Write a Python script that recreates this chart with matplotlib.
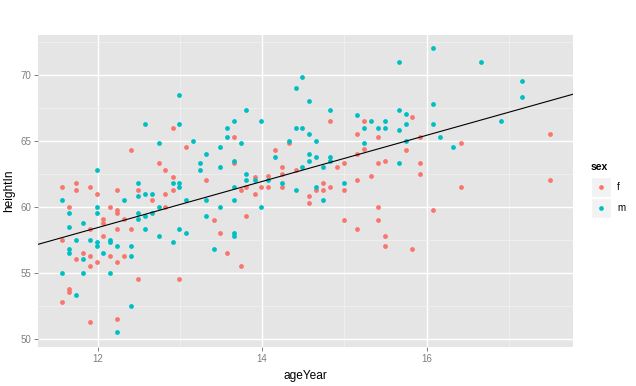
import matplotlib
matplotlib.use("Agg")
import matplotlib.pyplot as plt
from matplotlib.patches import Rectangle
from matplotlib.lines import Line2D
import numpy as np

plt.rcParams['font.family'] = ['Liberation Sans', 'DejaVu Sans']

# female points (ageYear, heightIn)
f_age = [12.40, 12.74, 11.74, 11.57, 11.74, 11.91, 12.23, 12.49, 11.99,
         12.66, 11.65, 12.15, 12.23, 12.23, 12.07, 12.07, 12.32, 11.91, 12.23,
         12.40, 12.07, 11.57, 11.82, 11.91, 12.15, 12.32, 11.74, 11.99, 12.23,
         11.91, 12.49, 11.65, 11.65, 11.57, 12.23, 11.91,
         12.92, 13.66, 13.07, 13.66, 12.82, 12.92, 13.32, 13.91, 12.92, 13.99,
         13.74, 13.81, 12.82, 13.91,
         12.82, 13.81, 13.41, 13.49, 13.57, 13.74, 12.99,
         14.82, 15.24, 15.16, 14.33, 15.24, 14.16, 15.16, 15.00, 14.24, 14.91,
         14.41, 14.24, 15.32, 14.07, 14.74, 15.16, 14.07, 14.24, 14.82, 14.66,
         14.74, 15.00,
         14.57, 14.57, 15.00, 15.16,
         15.82, 15.41, 15.92, 16.42, 15.75, 15.41, 15.50, 15.92, 15.92, 16.42,
         15.41, 16.08, 15.41, 15.50, 15.50, 15.82,
         17.50, 17.50]
f_height = [64.3, 63.3, 61.8, 61.5, 61.3, 61.5, 61.3, 61.3, 61.0,
            60.5, 60.0, 60.0, 59.75, 59.5, 59.05, 58.8, 59.05, 58.3, 58.3,
            58.3, 57.8, 57.5, 56.5, 56.3, 56.3, 56.3, 56.0, 55.8, 55.8,
            55.5, 54.5, 53.8, 53.5, 52.8, 51.5, 51.3,
            66.0, 65.3, 64.5, 63.3, 62.8, 62.25, 62.0, 62.25, 61.3, 61.5,
            61.3, 61.5, 61.0, 61.0,
            60.0, 59.3, 59.0, 58.0, 56.5, 55.5, 54.5,
            66.5, 66.5, 65.5, 64.8, 64.4, 64.3, 64.0, 63.3, 63.0, 63.0,
            62.8, 62.5, 62.3, 62.3, 61.8, 62.0, 61.5, 61.5, 61.5, 61.3,
            61.3, 61.3,
            60.8, 60.3, 59.0, 58.3,
            66.8, 65.3, 65.3, 64.8, 64.3, 63.3, 63.5, 63.3, 62.5, 61.5,
            60.0, 59.75, 59.0, 57.8, 57.0, 56.8,
            65.5, 62.0]

# male points (ageYear, heightIn)
m_age = [12.58, 12.74, 11.99, 12.49, 12.58, 12.66,
         12.49, 11.57, 11.99, 12.32, 12.74, 11.65, 11.99, 12.49, 12.66, 12.49,
         12.58, 11.82, 11.65, 12.58, 12.74, 11.74, 11.91, 11.99, 11.99, 12.15,
         12.15, 12.23, 12.40, 11.65, 11.65, 12.07, 12.40, 11.82, 11.57, 11.82,
         12.15, 11.74, 12.40, 12.23,
         12.99, 13.81, 13.66, 13.99, 12.99, 13.57, 13.57, 13.16, 13.74, 13.49,
         13.32, 13.24, 13.66, 13.24, 13.49, 13.81, 13.81, 13.91, 12.92, 12.99,
         12.99, 13.66,
         13.07, 13.32, 13.66, 13.49, 13.99, 13.32, 12.99, 13.07, 13.66, 13.66,
         12.92, 13.41,
         14.49, 14.41, 14.57, 14.82, 15.16, 15.32, 14.41, 14.49, 15.24, 14.57,
         14.33, 14.66, 15.24, 14.57, 14.16, 14.66, 14.82, 14.57, 14.82, 14.49,
         14.74, 14.07, 14.24, 15.00, 14.66, 14.41,
         14.74,
         16.08, 15.66, 16.08, 15.66, 15.75, 15.50, 15.41, 15.50, 15.75, 16.08,
         15.66, 16.16, 15.75, 16.32, 15.66,
         16.66, 17.16, 17.16, 16.91]
m_height = [66.3, 64.8, 62.8, 61.8, 61.0, 61.0,
            60.8, 60.5, 60.0, 60.5, 60.0, 59.5, 59.5, 59.5, 59.5, 59.05,
            59.3, 58.8, 58.5, 58.3, 57.8, 57.5, 57.5, 57.35, 57.0, 57.5,
            57.35, 57.0, 57.0, 56.8, 56.5, 56.5, 56.3, 56.0, 55.0, 55.0,
            55.0, 53.3, 52.5, 50.5,
            68.5, 67.3, 66.5, 66.5, 66.3, 66.0, 65.3, 65.0, 64.8, 64.5,
            64.0, 63.3, 63.5, 62.8, 63.0, 62.5, 62.0, 62.0, 61.8, 61.8,
            61.5, 61.5,
            60.5, 60.5, 60.5, 60.0, 60.0, 59.3, 58.3, 58.0, 58.0, 57.8,
            57.35, 56.8,
            69.8, 69.0, 68.0, 67.3, 66.95, 66.5, 66.0, 66.0, 66.0, 65.5,
            65.0, 65.0, 64.8, 64.0, 63.8, 63.8, 63.8, 63.5, 63.5, 63.0,
            63.0, 62.0, 61.8, 61.8, 61.5, 61.3,
            60.5,
            72.0, 71.0, 67.8, 67.3, 67.0, 66.5, 66.0, 66.0, 66.3, 66.3,
            65.8, 65.3, 65.0, 64.5, 63.3,
            71.0, 69.5, 68.3, 66.5]

# fitted line heightIn ~ ageYear
intercept = 37.44
slope = 1.748

sexes = ['f', 'm']
colors = ['#F8766D', '#00BFC4']

fig = plt.figure(figsize=(6.36, 3.86), dpi=100)
ax = fig.add_axes([38/636, 1-347/386, (573-38)/636, (347-35)/386])
ax.set_facecolor('#E5E5E5')
for s in ax.spines.values():
    s.set_visible(False)

ax.set_xlim(11.274, 17.782)
ax.set_ylim(49.37, 73.01)
ax.set_xticks([12, 14, 16])
ax.set_yticks([50, 55, 60, 65, 70])
ax.set_xticks([13, 15, 17], minor=True)
ax.set_yticks([52.5, 57.5, 62.5, 67.5, 72.5], minor=True)
ax.grid(which='major', color='white', linewidth=1.0)
ax.grid(which='minor', color='#F2F2F2', linewidth=0.5)
ax.set_axisbelow(True)
ax.tick_params(which='major', length=3, width=0.7, color='#7F7F7F',
               labelcolor='#7F7F7F', labelsize=7, pad=2)
ax.tick_params(which='minor', length=0)

ax.scatter(f_age, f_height, s=12, color=colors[0], linewidths=0, zorder=3)
ax.scatter(m_age, m_height, s=12, color=colors[1], linewidths=0, zorder=3)

xs = np.array(ax.get_xlim())
ax.plot(xs, intercept + slope * xs, color='black', linewidth=0.8, zorder=4)
ax.set_xlim(11.274, 17.782)

ax.set_xlabel('ageYear', fontsize=8.6, labelpad=4)
ax.set_ylabel('heightIn', fontsize=8.6, labelpad=4)

# legend
fig.text(591/636, 1-167/386, 'sex', fontsize=7.5, fontweight='bold',
         va='center', ha='left')
for i, (lab, col) in enumerate(zip(sexes, colors)):
    y0 = 177 + i * 21
    fig.patches.append(Rectangle((591/636, 1-(y0+20)/386), 20/636, 20/386,
                                 transform=fig.transFigure, facecolor='#F2F2F2',
                                 edgecolor='white', linewidth=1))
    fig.lines.append(Line2D([601/636], [1-(y0+10)/386], transform=fig.transFigure,
                            marker='o', markersize=3.4, color=col,
                            markeredgewidth=0, linestyle='none'))
    fig.text(617/636, 1-(y0+10)/386, lab, fontsize=7, va='center', ha='left')

fig.savefig('out.png', dpi=100)
